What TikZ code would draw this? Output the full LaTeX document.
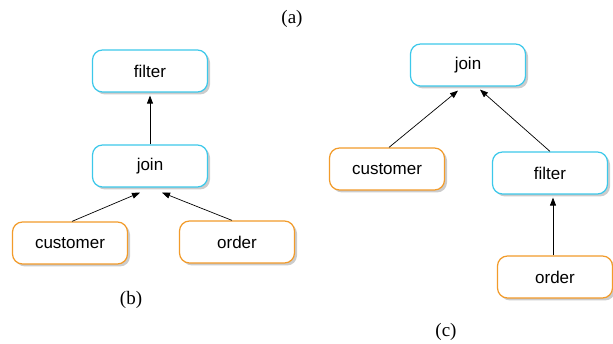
\documentclass[tikz,border=0pt]{standalone}
\usepackage{fontspec}
\setmainfont{Liberation Serif}
\newfontfamily\boxfont{Liberation Sans}
\usetikzlibrary{arrows.meta,shadows}
\definecolor{opline}{HTML}{3CC8EA}
\definecolor{relline}{HTML}{F29B2A}
\definecolor{shade}{HTML}{9A9A9A}
\tikzset{
  plannode/.style={rounded corners=10pt, line width=1.2pt, fill=white, minimum width=115pt, minimum height=42pt, align=center, font=\boxfont\fontsize{17}{20}\selectfont, drop shadow={shadow xshift=2.5pt, shadow yshift=-2.5pt, fill=shade, opacity=0.5}},
  opnode/.style={plannode, draw=opline},
  relnode/.style={plannode, draw=relline},
  link/.style={-{Triangle[length=8pt,width=6pt]}, line width=0.7pt},
  caption/.style={font=\fontsize{19}{22}\selectfont}
}
\begin{document}
\begin{tikzpicture}[x=1pt,y=-1pt]
\useasboundingbox (0,0) rectangle (613,344);
\node[caption] (capA) at (292,19) {(a)};
% plan (b)
\node[opnode] (filtB) at (150,71) {filter};
\node[opnode] (joinB) at (150,166) {join};
\node[relnode] (custB) at (70,243) {customer};
\node[relnode] (ordB) at (237,242) {order};
\draw[link] (joinB.north) -- ([yshift=-3pt]filtB.south);
\draw[link] ([xshift=2pt]custB.north) -- ([xshift=-10pt,yshift=-5pt]joinB.south);
\draw[link] ([xshift=-5pt]ordB.north) -- ([xshift=12pt,yshift=-5pt]joinB.south);
\node[caption] (capB) at (131,300) {(b)};
% plan (c)
\node[opnode] (joinC) at (468,65) {join};
\node[relnode] (custC) at (387,169) {customer};
\node[opnode] (filtC) at (550,173) {filter};
\node[relnode] (ordC) at (555,277) {order};
\draw[link] ([xshift=2pt]custC.north) -- ([xshift=-10pt,yshift=-4pt]joinC.south);
\draw[link] (filtC.north) -- ([xshift=12pt,yshift=-3pt]joinC.south);
\draw[link] ([xshift=-2pt]ordC.north) -- ([xshift=3pt,yshift=-3pt]filtC.south);
\node[caption] (capC) at (446,332) {(c)};
\end{tikzpicture}
\end{document}
